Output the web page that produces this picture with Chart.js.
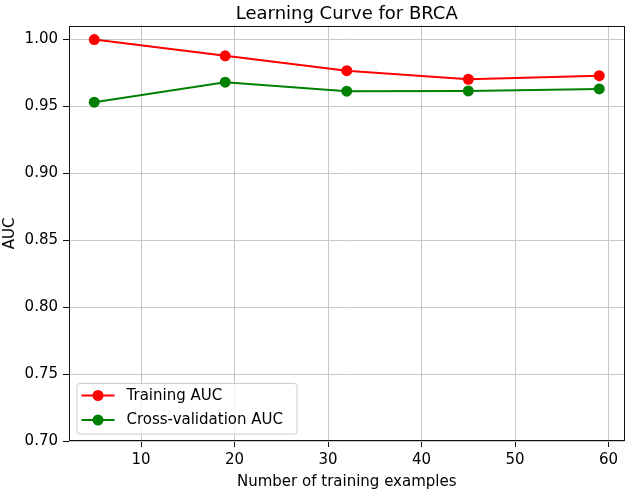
<!DOCTYPE html>
<html>
<head>
<meta charset="utf-8">
<script src="https://cdn.jsdelivr.net/npm/chart.js@4"></script>
<style>
html,body{margin:0;padding:0;background:#fff;}
#wrap{width:630px;height:492px;}
</style>
</head>
<body>
<div id="wrap"><canvas id="c" width="630" height="492"></canvas></div>
<script>
const trainSizes = [5, 19, 32, 45, 59];
const trainingAUC = [1.000, 0.9878, 0.9767, 0.9703, 0.9730];
const cvAUC = [0.9532, 0.9681, 0.9614, 0.9616, 0.9631];
const xTicks = [10, 20, 30, 40, 50, 60];
const yTicks = [0.70, 0.75, 0.80, 0.85, 0.90, 0.95, 1.00];
const seriesNames = ['Training AUC', 'Cross-validation AUC'];
const seriesColors = ['#ff0000', '#008000'];
const titleText = 'Learning Curve for BRCA';
const xTitle = 'Number of training examples';
const yTitle = 'AUC';

const FONT = "'DejaVu Sans', sans-serif";

const overlay = {
  id: 'overlay',
  afterDraw(chart) {
    const ctx = chart.ctx;
    const a = chart.chartArea;
    ctx.save();
    // frame
    ctx.strokeStyle = '#111';
    ctx.lineWidth = 1;
    ctx.strokeRect(Math.round(a.left) + 0.5, Math.round(a.top) + 0.5, Math.round(a.right - a.left) - 1, Math.round(a.bottom - a.top) - 1);
    // title
    ctx.fillStyle = '#000';
    ctx.font = '18px ' + FONT;
    ctx.textAlign = 'center';
    ctx.textBaseline = 'alphabetic';
    ctx.fillText(titleText, (a.left + a.right) / 2, 18.5);
    // legend
    const lx = a.left + 7.5, ly = a.bottom - 58;
    const lw = 220, lh = 50.5;
    ctx.beginPath();
    if (ctx.roundRect) ctx.roundRect(lx + 0.5, ly + 0.5, lw, lh, 3); else ctx.rect(lx + 0.5, ly + 0.5, lw, lh);
    ctx.fillStyle = 'rgba(255,255,255,0.8)';
    ctx.fill();
    ctx.strokeStyle = '#cccccc';
    ctx.lineWidth = 1;
    ctx.stroke();
    chart.data.datasets.forEach((ds, i) => {
      const cy = ly + 12.5 + i * 24.5;
      ctx.strokeStyle = ds.borderColor;
      ctx.lineWidth = 2;
      ctx.beginPath();
      ctx.moveTo(lx + 5, cy);
      ctx.lineTo(lx + 38, cy);
      ctx.stroke();
      ctx.fillStyle = ds.backgroundColor;
      ctx.beginPath();
      ctx.arc(lx + 21.5, cy, 5.5, 0, Math.PI * 2);
      ctx.fill();
      ctx.fillStyle = '#000';
      ctx.font = '15px ' + FONT;
      ctx.textAlign = 'left';
      ctx.textBaseline = 'middle';
      ctx.fillText(ds.label, lx + 50, cy + 0.5);
    });
    ctx.restore();
  }
};

const datasets = [trainingAUC, cvAUC].map((vals, i) => ({
  label: seriesNames[i],
  data: trainSizes.map((x, j) => ({x: x, y: vals[j]})),
  borderColor: seriesColors[i],
  backgroundColor: seriesColors[i],
  pointBackgroundColor: seriesColors[i],
  pointBorderColor: seriesColors[i],
  pointRadius: 5.5,
  pointBorderWidth: 0,
  borderWidth: 2,
  tension: 0,
  fill: false
}));

new Chart(document.getElementById('c'), {
  type: 'line',
  data: {datasets: datasets},
  plugins: [overlay],
  options: {
    responsive: false,
    animation: false,
    devicePixelRatio: 1,
    layout: {padding: {left: 0, right: 3.5, top: 26, bottom: 0}},
    plugins: {legend: {display: false}, title: {display: false}, tooltip: {enabled: false}},
    scales: {
      x: {
        type: 'linear',
        min: 2.3,
        max: 61.7,
        afterBuildTicks: s => { s.ticks = xTicks.map(v => ({value: v})); },
        afterFit: s => { s.height = 51; },
        grid: {color: '#c8c8c8', lineWidth: 1, tickColor: '#111', tickLength: 6, drawTicks: true},
        border: {display: false},
        ticks: {color: '#000', font: {family: FONT, size: 15}, padding: 4, maxRotation: 0},
        title: {display: true, text: xTitle, color: '#000', font: {family: FONT, size: 15}, padding: {top: 0, bottom: 1}}
      },
      y: {
        type: 'linear',
        min: 0.70,
        max: 1.0101,
        afterBuildTicks: s => { s.ticks = yTicks.map(v => ({value: v})); },
        afterFit: s => { s.width = 69; },
        grid: {color: '#c8c8c8', lineWidth: 1, tickColor: '#111', tickLength: 6, drawTicks: true},
        border: {display: false},
        ticks: {color: '#000', font: {family: FONT, size: 15}, padding: 5, callback: v => v.toFixed(2)},
        title: {display: true, text: yTitle, color: '#000', font: {family: FONT, size: 15}, padding: {top: 1, bottom: 0}}
      }
    }
  }
});
</script>
</body>
</html>
